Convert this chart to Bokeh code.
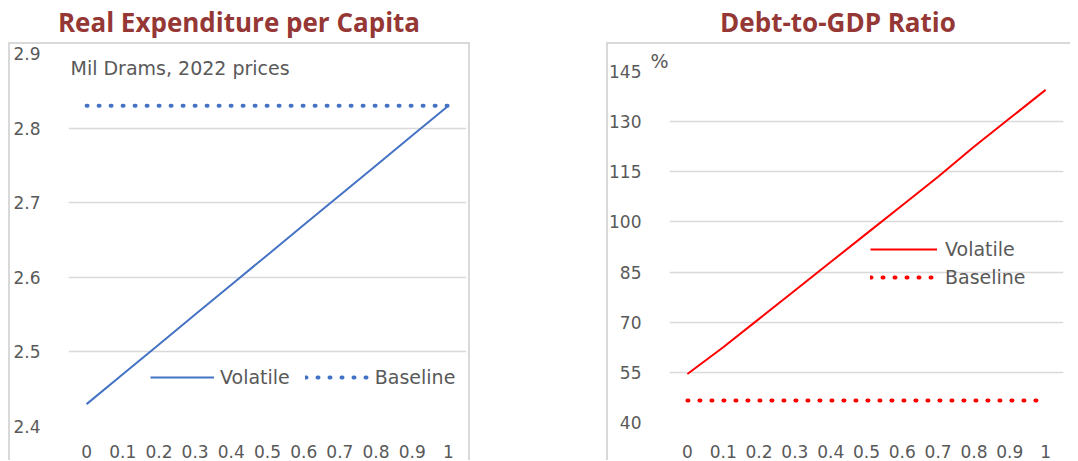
from bokeh.plotting import figure
from bokeh.models import (FactorRange, Range1d, Legend, LegendItem, Div, Spacer, Label, Title)
from bokeh.layouts import row, column
from bokeh.embed import file_html
from bokeh.resources import INLINE

# ---- data ----
shock = ["0", "0.1", "0.2", "0.3", "0.4", "0.5", "0.6", "0.7", "0.8", "0.9", "1"]
exp_volatile = [2.43, 2.47, 2.51, 2.55, 2.59, 2.63, 2.67, 2.71, 2.75, 2.79, 2.83]
exp_baseline = [2.83, 2.83, 2.83, 2.83, 2.83, 2.83, 2.83, 2.83, 2.83, 2.83, 2.83]
debt_volatile = [54.5, 62.5, 71.0, 79.5, 88.0, 96.5, 105.0, 113.5, 122.5, 131.0, 139.5]
debt_baseline = [46.6, 46.6, 46.6, 46.6, 46.6, 46.6, 46.6, 46.6, 46.6, 46.6, 46.6]
exp_ticks = [2.4, 2.5, 2.6, 2.7, 2.8, 2.9]
debt_ticks = [40, 55, 70, 85, 100, 115, 130, 145]
exp_unit = "Mil Drams, 2022 prices"
debt_unit = "%"

TICK_FONT = "DejaVu Sans"
TICK_SIZE = "17px"
LEG_SIZE = "19px"
GREY = "#595959"
TITLE_COLOR = "#953735"
LINE_GREY = "#d9d9d9"


def style_fig(p, ticks, x_standoff):
    p.outline_line_color = None
    p.xgrid.grid_line_color = None
    p.ygrid.grid_line_color = LINE_GREY
    p.ygrid.grid_line_width = 1.5
    p.yaxis.ticker = ticks
    for ax in (p.xaxis[0], p.yaxis[0]):
        ax.axis_line_color = None
        ax.major_tick_line_color = None
        ax.minor_tick_line_color = None
        ax.major_label_text_font = TICK_FONT
        ax.major_label_text_font_size = TICK_SIZE
        ax.major_label_text_color = GREY
    p.yaxis.major_label_standoff = 22
    p.xaxis.major_label_standoff = x_standoff
    p.background_fill_color = "white"
    p.border_fill_alpha = 0


def title_div(text, width):
    return Div(
        text=f'<div style="width:{width}px;text-align:center;font-family:\'Open Sans\';'
             f'font-weight:bold;font-size:26px;color:{TITLE_COLOR};line-height:28px;">{text}</div>',
        width=width, height=34, margin=0,
    )


# ---- left chart ----
p1 = figure(x_range=FactorRange(*shock), y_range=Range1d(2.4, 2.9),
            width=462, height=418, output_backend="svg", toolbar_location=None,
            min_border_left=60, min_border_right=4, min_border_top=11, min_border_bottom=34)
style_fig(p1, exp_ticks, 12)
r1a = p1.line(shock, exp_volatile, line_color="#4472C4", line_width=2)
r1b = p1.line(shock, exp_baseline, line_color="#4472C4", line_width=4,
              line_dash="1 11", line_cap="round")
leg1 = Legend(items=[LegendItem(label="Volatile", renderers=[r1a]),
                     LegendItem(label="Baseline", renderers=[r1b])],
              orientation="horizontal", location=(82, 38),
              glyph_width=64, glyph_height=20, label_standoff=6, spacing=15,
              padding=0, margin=0, border_line_color=None, background_fill_alpha=0,
              label_text_font=TICK_FONT, label_text_font_size=LEG_SIZE,
              label_text_color=GREY)
p1.add_layout(leg1)
p1.add_layout(Label(x=0, y=2.88, x_offset=2, text=exp_unit, text_baseline="middle",
                    text_font=TICK_FONT, text_font_size=LEG_SIZE, text_color=GREY))
p1.styles = {"box-shadow": f"inset 2px 2px 0 0 {LINE_GREY}, inset -2px 0 0 0 {LINE_GREY}"}

# ---- right chart ----
p2 = figure(x_range=FactorRange(*shock), y_range=Range1d(40, 145),
            width=464, height=418, output_backend="svg", toolbar_location=None,
            min_border_left=61, min_border_right=7, min_border_top=29, min_border_bottom=38)
style_fig(p2, debt_ticks, 16)
r2a = p2.line(shock, debt_volatile, line_color="#FF0000", line_width=2)
r2b = p2.line(shock, debt_baseline, line_color="#FF0000", line_width=4,
              line_dash="1 11", line_cap="round")
leg2 = Legend(items=[LegendItem(label="Volatile", renderers=[r2a]),
                     LegendItem(label="Baseline", renderers=[r2b])],
              orientation="vertical", location=(201, 134),
              glyph_width=67, glyph_height=22, label_standoff=8, spacing=6,
              padding=0, margin=0, border_line_color=None, background_fill_alpha=0,
              label_text_font=TICK_FONT, label_text_font_size=LEG_SIZE,
              label_text_color=GREY)
p2.add_layout(leg2)
p2.add_layout(Title(text=debt_unit, align="left", offset=-19, standoff=0,
                    text_font=TICK_FONT, text_font_size=LEG_SIZE, text_font_style="normal",
                    text_color=GREY), "above")
p2.styles = {"box-shadow": f"inset 2px 2px 0 0 {LINE_GREY}"}

left = column(title_div("Real Expenditure per Capita", 462), p1)
right = column(title_div("Debt-to-GDP Ratio", 464), p2)
layout = row(left, Spacer(width=136), right, margin=(8, 8, 0, 8))

open("out.html", "w").write(file_html(layout, INLINE))
